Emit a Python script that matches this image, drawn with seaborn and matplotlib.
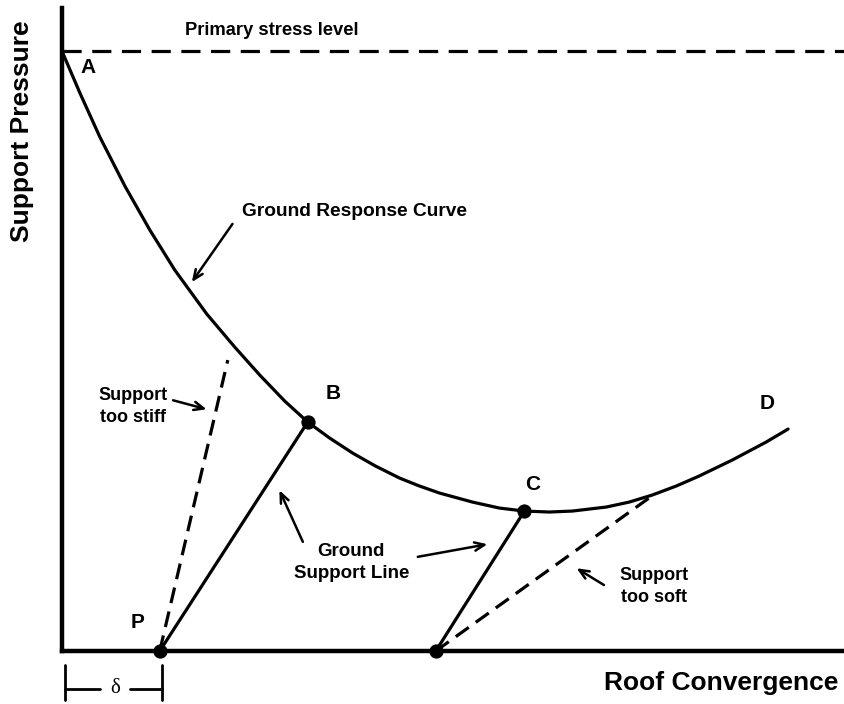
import numpy as np
import pandas as pd
import seaborn as sns
import matplotlib.pyplot as plt

sns.set_style("white")
plt.rcParams['font.family'] = ['Liberation Sans', 'DejaVu Sans']
plt.rcParams['text.color'] = 'black'

# ground response curve (convergence 0-100, pressure 0-100 = primary stress)
curve_x = [0.0, 2.30, 4.85, 8.05, 11.24, 14.43, 18.52, 22.09, 25.29, 28.48, 31.42,
           34.23, 37.16, 40.10, 43.17, 45.72, 48.28, 52.49, 55.94, 59.13, 62.32,
           65.26, 69.60, 72.54, 75.48, 78.54, 81.48, 85.70, 90.04, 92.85]
curve_y = [100.0, 93.0, 85.67, 77.5, 70.17, 63.5, 56.17, 50.67, 46.0, 41.67, 38.17,
           35.5, 33.0, 30.83, 28.83, 27.5, 26.33, 24.83, 23.83, 23.33, 23.17,
           23.33, 24.0, 24.83, 26.0, 27.5, 29.17, 31.83, 34.83, 37.0]
primary_stress = 100

# support lines: start (on convergence axis) and end
support_good = {"x": [12.5, 31.42], "y": [0, 38.17]}
support_late = {"x": [47.8, 59.13], "y": [0, 23.33]}
support_stiff = {"x": [12.5, 21.2], "y": [0, 48.5]}
support_soft = {"x": [47.8, 75.6], "y": [0, 26.0]}

dots_x = [12.5, 31.42, 47.8, 59.13]
dots_y = [0, 38.17, 0, 23.33]

point_labels = ["A", "B", "C", "D", "P"]
point_lx = [3.3, 34.7, 60.2, 90.2, 9.6]
point_ly = [97.2, 43.0, 27.7, 41.2, 4.8]

fig = plt.figure(figsize=(8.44, 7.04), dpi=100)
ax = fig.add_axes([62 / 844, 53 / 704, 782 / 844, 643 / 704])

lw = 2.3
sns.lineplot(x=curve_x, y=curve_y, ax=ax, color="black", lw=lw, sort=False,
             solid_joinstyle="round")
sns.lineplot(x=[0, 100], y=[primary_stress, primary_stress], ax=ax, color="black",
             lw=lw, linestyle=(0, (6, 3.3)))
sns.lineplot(x=support_good["x"], y=support_good["y"], ax=ax, color="black", lw=lw)
sns.lineplot(x=support_late["x"], y=support_late["y"], ax=ax, color="black", lw=lw)
sns.lineplot(x=support_stiff["x"], y=support_stiff["y"], ax=ax, color="black", lw=lw,
             linestyle=(0, (5, 2.7)))
sns.lineplot(x=support_soft["x"], y=support_soft["y"], ax=ax, color="black", lw=lw,
             linestyle=(0, (5, 2.7)))
sns.scatterplot(x=dots_x, y=dots_y, ax=ax, color="black", s=90, edgecolor="black",
                zorder=5, clip_on=False)

ax.set_xlim(0, 100)
ax.set_ylim(0, 107.2)
ax.set_xticks([])
ax.set_yticks([])
sns.despine(ax=ax)
for s in ["left", "bottom"]:
    ax.spines[s].set_linewidth(3.2)
    ax.spines[s].set_color("black")

for lab, lx, ly in zip(point_labels, point_lx, point_ly):
    ax.text(lx, ly, lab, fontsize=15, fontweight="bold", ha="center", va="center")

ax.text(26.8, 103.5, "Primary stress level", fontsize=13.2, fontweight="bold",
        ha="center", va="center")
ax.text(23.0, 73.2, "Ground Response Curve", fontsize=13.8, fontweight="bold",
        ha="left", va="center")
ax.text(9.1, 40.8, "Support\ntoo stiff", fontsize=13, fontweight="bold",
        ha="center", va="center", linespacing=1.4)
ax.text(37.0, 14.7, "Ground\nSupport Line", fontsize=13.5, fontweight="bold",
        ha="center", va="center", linespacing=1.4)
ax.text(75.7, 10.7, "Support\ntoo soft", fontsize=13, fontweight="bold",
        ha="center", va="center", linespacing=1.4)

arrows = [((21.8, 71.2), (16.6, 61.5)),
          ((14.2, 41.8), (18.5, 40.3)),
          ((30.8, 18.2), (27.8, 26.8)),
          ((45.5, 15.7), (54.4, 17.8)),
          ((69.3, 11.0), (65.8, 13.8))]
for tail, head in arrows:
    ax.annotate("", xy=head, xytext=tail,
                arrowprops=dict(arrowstyle="->,head_length=0.7,head_width=0.3",
                                lw=1.8, color="black", shrinkA=0, shrinkB=0))

# delta dimension under the axis
for xv in [0.4, 12.8]:
    ax.plot([xv, xv], [-2.3, -8.2], color="black", lw=2, clip_on=False)
ax.plot([0.4, 4.9], [-6.3, -6.3], color="black", lw=2, clip_on=False)
ax.plot([8.7, 12.8], [-6.3, -6.3], color="black", lw=2, clip_on=False)
ax.text(6.8, -6.3, "δ", fontsize=15, ha="center", va="center", family="Liberation Serif")

fig.text(838 / 844, 1 - 683 / 704, "Roof Convergence", fontsize=19, fontweight="bold",
         ha="right", va="center")
fig.text(22 / 844, 1 - 131 / 704, "Support Pressure", fontsize=19, fontweight="bold",
         ha="center", va="center", rotation=90)

fig.savefig("out.png", dpi=100)
